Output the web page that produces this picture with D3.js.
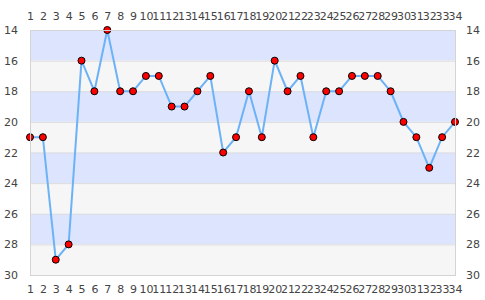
<!DOCTYPE html>
<html>
<head>
<meta charset="utf-8">
<script src="https://cdn.jsdelivr.net/npm/d3@7"></script>
<style>
  body { margin: 0; background: #fff; }
  text { font-family: "DejaVu Sans", sans-serif; font-size: 11px; fill: #444; }
</style>
</head>
<body>
<svg id="chart" width="485" height="300"></svg>
<script>
var categories = d3.range(1, 35);
var values = [21, 21, 29, 28, 16, 18, 14, 18, 18, 17, 17, 19, 19, 18, 17, 22, 21, 18, 21, 16,
              18, 17, 21, 18, 18, 17, 17, 17, 18, 20, 21, 23, 21, 20];
var yTicks = [14, 16, 18, 20, 22, 24, 26, 28, 30];

var margin = { top: 30, right: 30, bottom: 25, left: 30 };
var width = 485, height = 300;

var svg = d3.select("#chart");

var x = d3.scaleLinear()
    .domain([1, 34])
    .range([margin.left, width - margin.right]);

var y = d3.scaleLinear()
    .domain([14, 30])
    .range([margin.top, height - margin.bottom]);

// Alternating bands, blue on top
var bands = d3.range(0, yTicks.length - 1);
svg.append("g")
    .selectAll("rect")
    .data(bands).enter()
    .append("rect")
    .attr("x", x(1))
    .attr("y", function (i) { return y(yTicks[i]); })
    .attr("width", x(34) - x(1))
    .attr("height", function (i) { return y(yTicks[i + 1]) - y(yTicks[i]); })
    .attr("fill", function (i) { return i % 2 ? "#f6f6f6" : "#dde4fe"; });

// Grid lines
svg.append("g")
    .selectAll("line")
    .data(yTicks).enter()
    .append("line")
    .attr("x1", x(1)).attr("x2", x(34))
    .attr("y1", function (d) { return y(d) + 0.5; })
    .attr("y2", function (d) { return y(d) + 0.5; })
    .attr("stroke", "#dcdcdc");

// The line
var line = d3.line()
    .x(function (d, i) { return x(categories[i]); })
    .y(function (d) { return y(d); });

svg.append("path")
    .datum(values)
    .attr("d", line)
    .attr("fill", "none")
    .attr("stroke", "#6cb2f7")
    .attr("stroke-width", 2);

// Markers
svg.append("g")
    .selectAll("circle")
    .data(values).enter()
    .append("circle")
    .attr("cx", function (d, i) { return x(categories[i]); })
    .attr("cy", function (d) { return y(d); })
    .attr("r", 3.5)
    .attr("fill", "red")
    .attr("stroke", "black")
    .attr("stroke-width", 1);

// Frame, drawn over the markers
svg.append("rect")
    .attr("x", x(1) + 0.5)
    .attr("y", y(14) + 0.5)
    .attr("width", x(34) - x(1))
    .attr("height", y(30) - y(14))
    .attr("fill", "none")
    .attr("stroke", "#d4d4d4");

// Axes
function styleAxis(g) {
    g.select(".domain").remove();
    g.selectAll(".tick line").remove();
    g.selectAll("text").attr("fill", "#444").style("font-size", "11px");
}

svg.append("g")
    .attr("transform", "translate(0," + (margin.top - 7) + ")")
    .call(d3.axisTop(x).tickValues(categories).tickFormat(d3.format("d")).tickSize(0))
    .call(styleAxis);

svg.append("g")
    .attr("transform", "translate(0," + (height - margin.bottom + 7) + ")")
    .call(d3.axisBottom(x).tickValues(categories).tickFormat(d3.format("d")).tickSize(0))
    .call(styleAxis);

svg.append("g")
    .attr("transform", "translate(" + (margin.left - 9) + ",0)")
    .call(d3.axisLeft(y).tickValues(yTicks).tickSize(0))
    .call(styleAxis);

svg.append("g")
    .attr("transform", "translate(" + (width - margin.right + 8) + ",0)")
    .call(d3.axisRight(y).tickValues(yTicks).tickSize(0))
    .call(styleAxis);
</script>
</body>
</html>
